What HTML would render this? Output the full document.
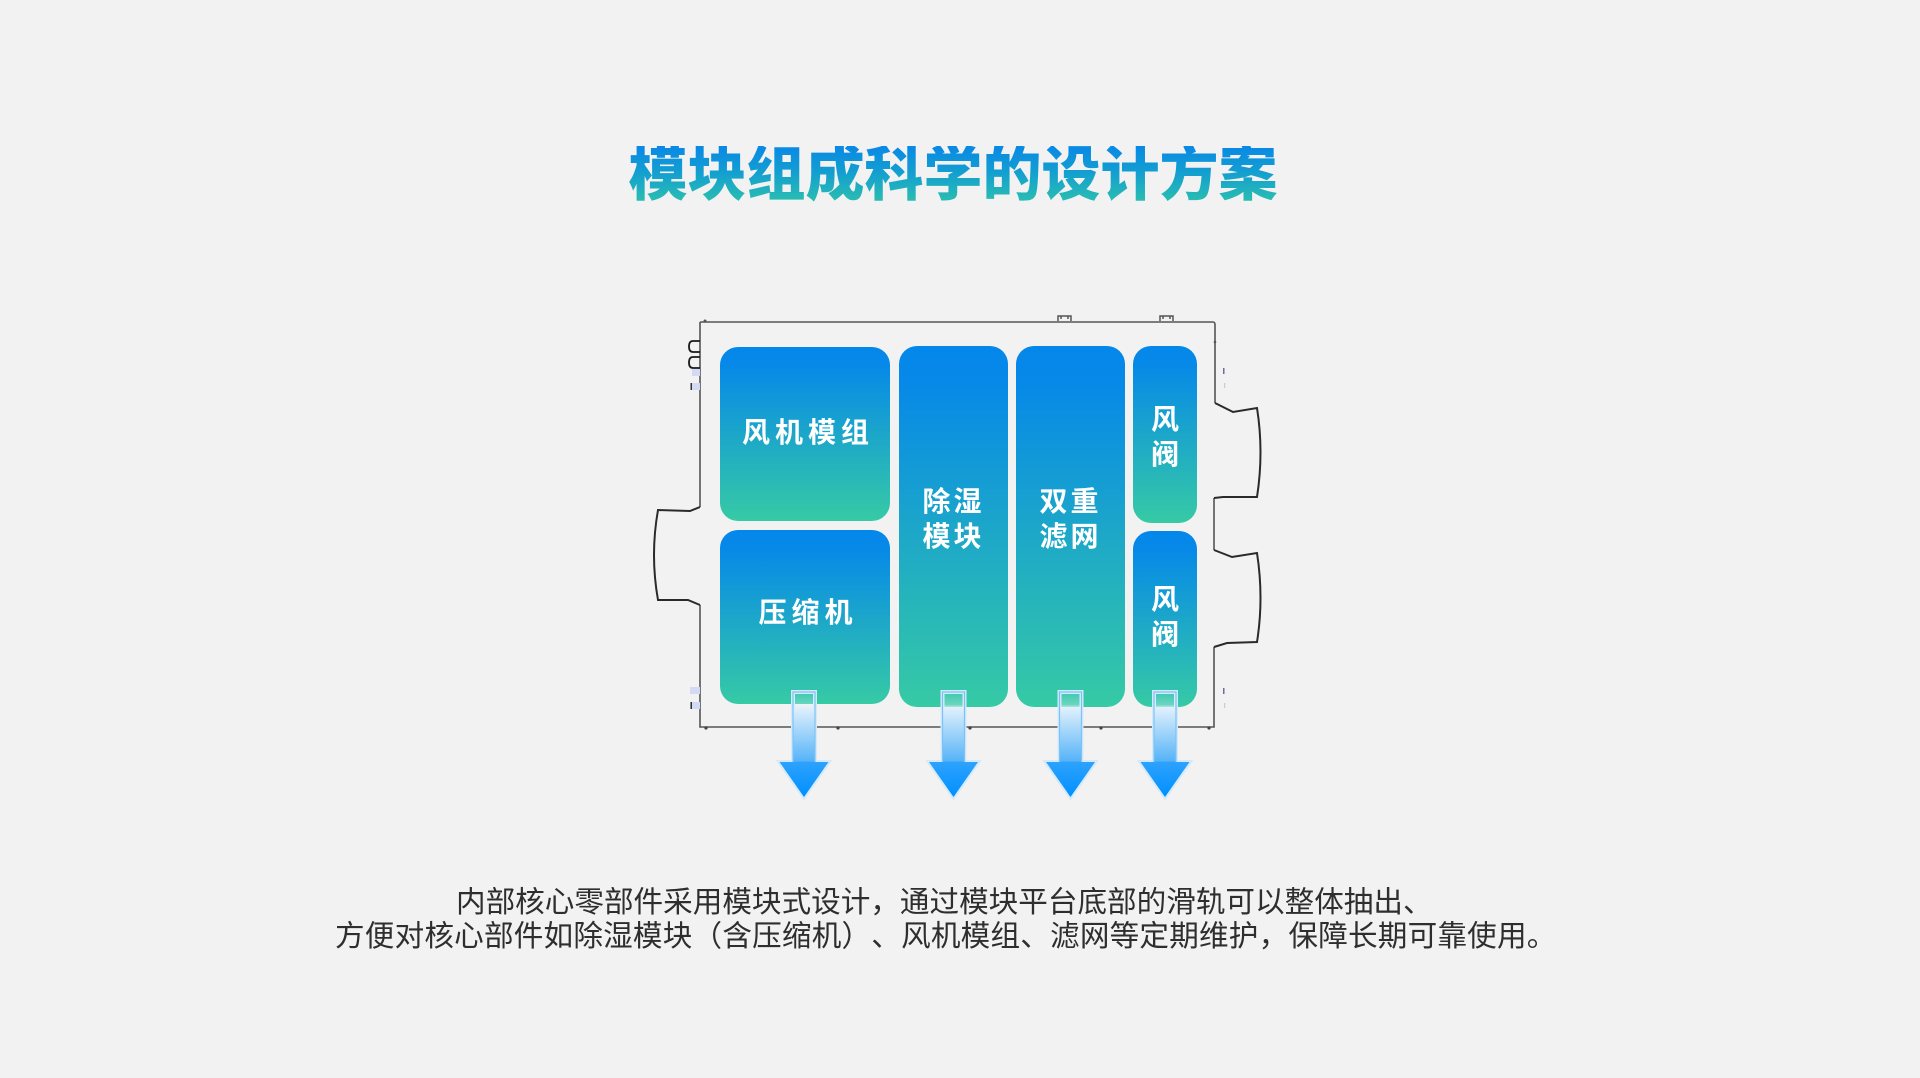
<!DOCTYPE html>
<html><head><meta charset="utf-8">
<style>
html,body{margin:0;padding:0;}
body{width:1920px;height:1078px;background:#f2f2f2;position:relative;overflow:hidden;font-family:"Liberation Sans","Noto Sans CJK SC",sans-serif;text-spacing-trim:space-all;}
.title{position:absolute;left:0;width:1906px;top:146px;text-align:center;font-size:59px;line-height:59px;font-weight:900;letter-spacing:0;
background:linear-gradient(to bottom,#0988e6 0%,#139fd0 45%,#2dc1ad 100%);-webkit-background-clip:text;background-clip:text;color:transparent;}
.lbl{position:absolute;color:#fff;font-size:28px;font-weight:700;line-height:35px;letter-spacing:5px;text-align:center;white-space:nowrap;}
.txt{position:absolute;color:#2e2e2e;font-size:29.6px;line-height:34px;white-space:nowrap;text-spacing-trim:space-all;}
svg{position:absolute;left:0;top:0;}
</style></head><body>
<svg width="1920" height="1078" viewBox="0 0 1920 1078">
<defs>
<linearGradient id="g" x1="0" y1="0" x2="0" y2="1">
<stop offset="0" stop-color="#0487ea"/>
<stop offset="0.1" stop-color="#0689e8"/>
<stop offset="1" stop-color="#36caa5"/>
</linearGradient>
<linearGradient id="ag" gradientUnits="userSpaceOnUse" x1="0" y1="692" x2="0" y2="797">
<stop offset="0" stop-color="#e4f2fc" stop-opacity="0.05"/>
<stop offset="0.12" stop-color="#e4f2fc" stop-opacity="0.3"/>
<stop offset="0.16" stop-color="#ddeffc"/>
<stop offset="0.66" stop-color="#55b3f7"/>
<stop offset="0.665" stop-color="#2ea2fd"/>
<stop offset="1" stop-color="#0090ff"/>
</linearGradient>
</defs>
<!-- frame -->
<path d="M700,322 H1213 Q1215,322 1215,325 V403 M1214,498 V550 M1214,647 V727 H700 V605 M700,507 V322" fill="none" stroke="#555" stroke-width="1.6"/>
<path d="M1215,403 L1233,412 L1257,408 Q1264,452 1257,497 L1223,497 L1214,498" fill="none" stroke="#2a2a2a" stroke-width="2"/>
<path d="M1214,550 L1232,557 L1257,553 Q1264,598 1257,642 L1227,643 L1214,647" fill="none" stroke="#2a2a2a" stroke-width="2"/>
<path d="M700,507 L690,511 L658,510 Q650,555 658,600 L688,600 L700,605" fill="none" stroke="#2a2a2a" stroke-width="2"/>
<!-- top nubs -->
<path d="M1058,321 V316 H1071 V321 M1061,316 V319 M1068,316 V319" fill="none" stroke="#555" stroke-width="1.5"/>
<path d="M1160,321 V316 H1173 V321 M1163,316 V319 M1170,316 V319" fill="none" stroke="#555" stroke-width="1.5"/>
<circle cx="705" cy="321" r="1.5" fill="#555"/>
<circle cx="1215" cy="342" r="1.3" fill="#555"/>
<!-- bottom ticks -->
<circle cx="706" cy="728" r="1.6" fill="#444"/>
<circle cx="838" cy="728" r="1.6" fill="#444"/>
<circle cx="970" cy="728" r="1.6" fill="#444"/>
<circle cx="1101" cy="728" r="1.6" fill="#444"/>
<circle cx="1209" cy="728" r="1.6" fill="#444"/>
<!-- left small marks -->
<path d="M700,341 H693 Q689,341 689,346.5 Q689,352 693,352 H700" fill="none" stroke="#1a1a1a" stroke-width="1.8"/>
<path d="M700,357 H693 Q689,357 689,362.5 Q689,368 693,368 H700" fill="none" stroke="#1a1a1a" stroke-width="1.8"/>
<rect x="692" y="369" width="8" height="7" fill="#d3dbf4"/>
<rect x="692" y="383" width="8" height="7" fill="#d3dbf4"/>
<rect x="690.5" y="383" width="1.5" height="7" fill="#333"/>
<rect x="690" y="687" width="10" height="7" fill="#d3dbf4"/>
<rect x="690" y="702" width="10" height="7" fill="#d3dbf4"/>
<rect x="690.5" y="702" width="1.5" height="7" fill="#333"/>
<rect x="1223" y="368" width="1.5" height="6" fill="#6670a0"/>
<rect x="1224" y="383" width="1.2" height="5" fill="#c8cbe0"/>
<rect x="1223" y="688" width="1.5" height="6" fill="#6670a0"/>
<rect x="1224" y="703" width="1.2" height="5" fill="#c8cbe0"/>
<!-- boxes -->
<rect x="720" y="347" width="170" height="174" rx="18" fill="url(#g)"/>
<rect x="720" y="530" width="170" height="174" rx="18" fill="url(#g)"/>
<rect x="899" y="346" width="109" height="361" rx="18" fill="url(#g)"/>
<rect x="1016" y="346" width="109" height="361" rx="18" fill="url(#g)"/>
<rect x="1133" y="346" width="64" height="177" rx="18" fill="url(#g)"/>
<rect x="1133" y="531" width="64" height="176" rx="18" fill="url(#g)"/>
<!-- arrows -->
<g>
<g transform="translate(804,0)">
<path d="M-11,692 H11 V762 H24.5 L0,797 L-24.5,762 H-11 Z" fill="none" stroke="#d4eafb" stroke-width="4" stroke-linejoin="miter"/>
<path d="M-11,692 H11 V762 H24.5 L0,797 L-24.5,762 H-11 Z" fill="url(#ag)"/>
<path d="M-11,762 V692 H11 V762" fill="none" stroke="#7cc2f6" stroke-width="1.2"/>
</g>
<g transform="translate(953.5,0)">
<path d="M-11,692 H11 V762 H24.5 L0,797 L-24.5,762 H-11 Z" fill="none" stroke="#d4eafb" stroke-width="4" stroke-linejoin="miter"/>
<path d="M-11,692 H11 V762 H24.5 L0,797 L-24.5,762 H-11 Z" fill="url(#ag)"/>
<path d="M-11,762 V692 H11 V762" fill="none" stroke="#7cc2f6" stroke-width="1.2"/>
</g>
<g transform="translate(1070.5,0)">
<path d="M-11,692 H11 V762 H24.5 L0,797 L-24.5,762 H-11 Z" fill="none" stroke="#d4eafb" stroke-width="4" stroke-linejoin="miter"/>
<path d="M-11,692 H11 V762 H24.5 L0,797 L-24.5,762 H-11 Z" fill="url(#ag)"/>
<path d="M-11,762 V692 H11 V762" fill="none" stroke="#7cc2f6" stroke-width="1.2"/>
</g>
<g transform="translate(1165,0)">
<path d="M-11,692 H11 V762 H24.5 L0,797 L-24.5,762 H-11 Z" fill="none" stroke="#d4eafb" stroke-width="4" stroke-linejoin="miter"/>
<path d="M-11,692 H11 V762 H24.5 L0,797 L-24.5,762 H-11 Z" fill="url(#ag)"/>
<path d="M-11,762 V692 H11 V762" fill="none" stroke="#7cc2f6" stroke-width="1.2"/>
</g>
</g>
</svg>

<div class="title">模块组成科学的设计方案</div>

<div class="lbl" style="left:705px;width:200px;top:415px;padding-left:3px;">风机模组</div>
<div class="lbl" style="left:705px;width:200px;top:595px;padding-left:3px;">压缩机</div>
<div class="lbl" style="left:903.5px;width:100px;top:484px;letter-spacing:3px;padding-left:0;">除湿<br>模块</div>
<div class="lbl" style="left:1020.5px;width:100px;top:484px;letter-spacing:3px;padding-left:0;">双重<br>滤网</div>
<div class="lbl" style="left:1135px;width:60px;top:402px;letter-spacing:0;">风<br>阀</div>
<div class="lbl" style="left:1135px;width:60px;top:582px;letter-spacing:0;">风<br>阀</div>

<div class="txt" style="left:456px;top:886px;">内部核心零部件采用模块式设计，通过模块平台底部的滑轨可以整体抽出、</div>
<div class="txt" style="left:335px;top:920px;letter-spacing:0.2px;">方便对核心部件如除湿模块（含压缩机）、风机模组、滤网等定期维护，保障长期可靠使用。</div>
</body></html>
